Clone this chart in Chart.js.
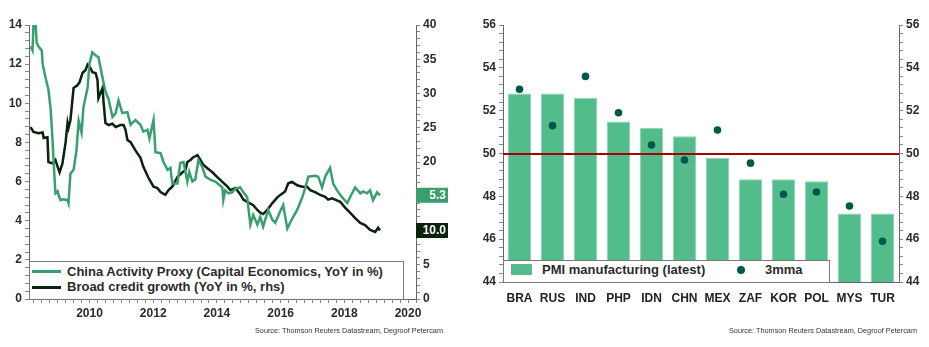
<!DOCTYPE html>
<html>
<head>
<meta charset="utf-8">
<title>China activity proxy and EM PMI</title>
<script src="https://cdn.jsdelivr.net/npm/chart.js@4.4.1/dist/chart.umd.min.js"></script>
<style>
  html, body { margin: 0; padding: 0; background: #fff; }
  body { position: relative; width: 929px; height: 347px; overflow: hidden;
         font-family: "Liberation Sans", Arial, sans-serif; color: #2b2b2b; }
  canvas { position: absolute; top: 0; }
  #activityChart { left: 0; }
  #pmiChart { left: 460px; }
  .legend { position: absolute; box-sizing: border-box; background: #fff;
            border: 1px solid #7a7a7a; font-weight: bold; font-size: 13px; z-index: 2; }
  .legend .row { position: absolute; white-space: nowrap; line-height: 16px; }
  .swatch-line { position: absolute; height: 3px; width: 29px; }
  .source { position: absolute; font-size: 7.3px; line-height: 9px; color: #333; white-space: nowrap; }
</style>
</head>
<body>
<canvas id="activityChart" width="460" height="347"></canvas>
<canvas id="pmiChart" width="469" height="347"></canvas>

<div class="legend" style="left:29px; top:261px; width:375px; height:39px;">
  <div class="swatch-line" style="left:2px; top:8px; background:#3a9f6e;"></div>
  <div class="row" style="left:37px; top:2px;">China Activity Proxy (Capital Economics, YoY in %)</div>
  <div class="swatch-line" style="left:2px; top:24px; background:#0b220f;"></div>
  <div class="row" style="left:37px; top:17px;">Broad credit growth (YoY in %, rhs)</div>
</div>
<div class="source" style="right:486px; top:326px;">Source: Thomson Reuters Datastream, Degroof Petercam</div>

<div class="legend" style="left:503px; top:260px; width:327px; height:23px;">
  <div style="position:absolute; left:7px; top:3px; width:21px; height:11px; background:#52bd8b;"></div>
  <div class="row" style="left:38px; top:1px;">PMI manufacturing (latest)</div>
  <div style="position:absolute; left:233px; top:5px; width:8px; height:8px; border-radius:50%; background:#00584a;"></div>
  <div class="row" style="left:261px; top:1px;">3mma</div>
</div>
<div class="source" style="right:12px; top:326px;">Source: Thomson Reuters Datastream, Degroof Petercam</div>

<script>
// China Activity Proxy (lhs, %) - dates as decimal years
const proxyDates = [2008.15, 2008.21, 2008.24, 2008.31, 2008.34, 2008.40, 2008.50, 2008.53, 2008.62, 2008.71,
  2008.78, 2008.84, 2008.87, 2008.93, 2009.00, 2009.03, 2009.09, 2009.18, 2009.31, 2009.34,
  2009.40, 2009.50, 2009.59, 2009.66, 2009.75, 2009.81, 2009.94, 2010.00, 2010.09, 2010.19,
  2010.28, 2010.41, 2010.50, 2010.60, 2010.72, 2010.82, 2010.91, 2011.03, 2011.19, 2011.29,
  2011.44, 2011.60, 2011.69, 2011.82, 2011.88, 2012.01, 2012.07, 2012.23, 2012.32, 2012.45,
  2012.54, 2012.60, 2012.76, 2012.85, 2012.95, 2013.07, 2013.13, 2013.23, 2013.32, 2013.42,
  2013.54, 2013.64, 2013.79, 2013.95, 2014.17, 2014.20, 2014.26, 2014.36, 2014.48, 2014.58,
  2014.73, 2014.83, 2014.95, 2015.05, 2015.14, 2015.27, 2015.36, 2015.45, 2015.61, 2015.74,
  2015.83, 2015.99, 2016.08, 2016.21, 2016.36, 2016.52, 2016.68, 2016.77, 2016.87, 2017.08,
  2017.18, 2017.30, 2017.40, 2017.55, 2017.65, 2017.77, 2017.93, 2018.09, 2018.18, 2018.34,
  2018.50, 2018.59, 2018.71, 2018.81, 2018.90, 2019.03, 2019.12];
const proxyValues = [12.9, 12.7, 14.0, 14.0, 13.1, 12.9, 12.7, 12.0, 11.3, 10.7,
  9.7, 8.1, 7.1, 5.4, 5.5, 5.3, 5.05, 5.1, 5.05, 4.9,
  6.4, 6.6, 7.6, 9.1, 8.5, 9.8, 10.8, 12.05, 12.6, 12.45,
  12.35, 11.3, 10.6, 10.2, 9.3, 9.5, 10.15, 9.5, 9.55, 8.9,
  9.15, 8.9, 8.55, 8.65, 8.2, 9.15, 7.5, 7.45, 7.0, 6.6,
  6.7, 5.9, 5.9, 6.95, 7.0, 6.0, 6.5, 6.0, 6.1, 7.1,
  6.75, 6.25, 6.1, 6.0, 5.7, 5.05, 5.55, 5.4, 5.45, 5.65,
  5.7, 5.45, 5.2, 3.8, 4.3, 3.8, 4.2, 3.7, 4.55, 4.05,
  3.9, 4.5, 4.8, 3.6, 4.1, 4.55, 5.2, 5.65, 6.25, 6.3,
  6.25, 5.7, 6.25, 6.7, 5.9, 5.55, 5.2, 4.9, 5.2, 5.7,
  5.4, 5.5, 5.4, 5.55, 5.05, 5.45, 5.3];

// Broad credit growth (rhs, %)
const creditDates = [2008.15, 2008.24, 2008.40, 2008.53, 2008.56, 2008.68, 2008.71, 2008.84, 2008.93, 2009.00,
  2009.06, 2009.15, 2009.25, 2009.31, 2009.34, 2009.40, 2009.50, 2009.62, 2009.69, 2009.78,
  2009.87, 2009.94, 2010.03, 2010.09, 2010.19, 2010.25, 2010.28, 2010.41, 2010.44, 2010.50,
  2010.60, 2010.72, 2010.82, 2010.97, 2011.07, 2011.13, 2011.19, 2011.29, 2011.44, 2011.60,
  2011.69, 2011.85, 2012.01, 2012.13, 2012.23, 2012.38, 2012.48, 2012.60, 2012.76, 2012.92,
  2013.01, 2013.07, 2013.17, 2013.26, 2013.39, 2013.48, 2013.57, 2013.70, 2013.86, 2014.01,
  2014.17, 2014.33, 2014.42, 2014.58, 2014.73, 2014.83, 2014.98, 2015.14, 2015.27, 2015.36,
  2015.45, 2015.58, 2015.74, 2015.89, 2015.99, 2016.14, 2016.24, 2016.36, 2016.52, 2016.68,
  2016.83, 2016.93, 2017.08, 2017.24, 2017.40, 2017.49, 2017.62, 2017.71, 2017.87, 2018.03,
  2018.18, 2018.34, 2018.50, 2018.65, 2018.81, 2018.97, 2019.06, 2019.12];
const creditValues = [25.1, 24.4, 24.2, 24.3, 23.5, 23.6, 20.0, 19.8, 20.3, 19.3,
  18.5, 19.8, 22.9, 25.7, 25.0, 26.1, 30.8, 31.2, 31.7, 33.0,
  33.4, 34.2, 33.7, 33.1, 33.0, 32.0, 29.3, 30.8, 28.8, 25.7,
  25.4, 25.6, 25.1, 25.4, 25.4, 24.7, 23.2, 22.9, 21.7, 20.6,
  19.3, 17.7, 16.4, 16.2, 15.6, 15.2, 15.9, 16.4, 17.8, 18.5,
  18.8, 20.0, 20.3, 20.7, 21.0, 20.3, 19.6, 19.1, 18.5, 17.8,
  17.1, 16.4, 15.9, 16.2, 15.3, 14.5, 14.1, 13.7, 13.0, 12.6,
  12.4, 13.0, 14.0, 14.8, 15.2, 15.7, 16.9, 17.1, 16.6, 16.4,
  16.4, 15.9, 15.6, 15.2, 14.9, 14.5, 14.7, 14.5, 14.2, 13.3,
  12.6, 11.8, 11.1, 10.8, 10.1, 9.8, 10.4, 10.0];

const proxyTicks = [0, 2, 4, 6, 8, 10, 12, 14];
const creditTicks = [0, 5, 10, 15, 20, 25, 30, 35, 40];
const yearTicks = [2010, 2012, 2014, 2016, 2018, 2020];

// EM manufacturing PMI
const pmiCountries = ['BRA', 'RUS', 'IND', 'PHP', 'IDN', 'CHN', 'MEX', 'ZAF', 'KOR', 'POL', 'MYS', 'TUR'];
const pmiLatest = [52.8, 52.8, 52.6, 51.5, 51.2, 50.8, 49.8, 48.8, 48.8, 48.7, 47.2, 47.2];
const pmi3mma = [53.0, 51.3, 53.6, 51.9, 50.4, 49.7, 51.1, 49.55, 48.1, 48.2, 47.55, 45.9];
const pmiTicks = [44, 46, 48, 50, 52, 54, 56];
const pmiThreshold = 50;

Chart.defaults.font.family = '"Liberation Sans", Arial, sans-serif';
Chart.defaults.animation = false;

const GREEN = '#3a9f6e';
const DARK = '#0b220f';
const TEXT = '#2b2b2b';
const AXIS = '#666';

function stepTicks(min, max, step) {
  const out = [];
  for (let k = 0; min + k * step <= max + 1e-9; k++) {
    out.push(Math.round((min + k * step) * 100) / 100);
  }
  return out;
}

function valueAxis(position, min, max, minorStep, labels, width) {
  const minor = stepTicks(min, max, minorStep);
  return {
    type: 'linear',
    position: position,
    min: min,
    max: max,
    afterBuildTicks: s => { s.ticks = minor.map(v => ({ value: v })); },
    afterFit: s => { s.width = width; },
    grid: { drawOnChartArea: false, tickLength: 4, color: '#888' },
    border: { color: AXIS },
    ticks: {
      autoSkip: false,
      padding: 3,
      color: TEXT,
      font: { size: 12, weight: 'bold' },
      callback: v => labels.includes(v) ? String(v) : ''
    }
  };
}

// coloured boxes with the latest value at the right axis
const lastValueBoxes = {
  id: 'lastValueBoxes',
  afterDraw(chart) {
    const { ctx, chartArea } = chart;
    chart.data.datasets.forEach(ds => {
      const last = ds.data[ds.data.length - 1];
      const y = chart.scales[ds.yAxisID].getPixelForValue(last.y);
      ctx.save();
      ctx.fillStyle = ds.borderColor;
      ctx.fillRect(chartArea.right, y - 7.5, 32, 15);
      ctx.fillStyle = '#fff';
      ctx.font = 'bold 12px "Liberation Sans", Arial, sans-serif';
      ctx.textAlign = 'right';
      ctx.textBaseline = 'middle';
      ctx.fillText(last.y.toFixed(1), chartArea.right + 30, y + 0.5);
      ctx.restore();
    });
  }
};

const quarterTicks = stepTicks(2008.25, 2020.25, 0.25);

new Chart(document.getElementById('activityChart'), {
  type: 'line',
  data: {
    datasets: [{
      label: 'China Activity Proxy (Capital Economics, YoY in %)',
      data: proxyDates.map((d, i) => ({ x: d, y: proxyValues[i] })),
      borderColor: GREEN,
      borderWidth: 2.5,
      pointRadius: 0,
      yAxisID: 'y'
    }, {
      label: 'Broad credit growth (YoY in %, rhs)',
      data: creditDates.map((d, i) => ({ x: d, y: creditValues[i] })),
      borderColor: DARK,
      borderWidth: 2.5,
      pointRadius: 0,
      yAxisID: 'y2'
    }]
  },
  options: {
    responsive: false,
    layout: { padding: { top: 25, left: 0, right: 0, bottom: 0 } },
    plugins: { legend: { display: false }, tooltip: { enabled: false } },
    scales: {
      x: {
        type: 'linear',
        min: 2008.1,
        max: 2020.25,
        afterBuildTicks: s => { s.ticks = quarterTicks.map(v => ({ value: v })); },
        afterFit: s => { s.height = 48; },
        grid: { drawOnChartArea: false, tickLength: 4, color: '#888' },
        border: { color: AXIS },
        ticks: {
          autoSkip: false,
          maxRotation: 0,
          padding: 3,
          color: TEXT,
          font: { size: 12, weight: 'bold' },
          callback: v => yearTicks.includes(v) ? String(v) : ''
        }
      },
      y: valueAxis('left', 0, 14, 0.4, proxyTicks, 29),
      y2: valueAxis('right', 0, 40, 1, creditTicks, 44)
    }
  },
  plugins: [lastValueBoxes]
});

// red line at the 50 expansion threshold, above the bars
const thresholdLine = {
  id: 'thresholdLine',
  afterDatasetDraw(chart, args) {
    if (args.meta.type !== 'bar') return;
    const { ctx, chartArea } = chart;
    const y = Math.round(chart.scales.y.getPixelForValue(pmiThreshold));
    ctx.save();
    ctx.strokeStyle = '#a40000';
    ctx.lineWidth = 2;
    ctx.beginPath();
    ctx.moveTo(chartArea.left, y);
    ctx.lineTo(chartArea.right, y);
    ctx.stroke();
    ctx.restore();
  }
};

new Chart(document.getElementById('pmiChart'), {
  data: {
    labels: pmiCountries,
    datasets: [{
      type: 'line',
      label: '3mma',
      data: pmi3mma,
      showLine: false,
      pointRadius: 3.8,
      pointBackgroundColor: '#00584a',
      pointBorderWidth: 0,
      order: 0
    }, {
      type: 'bar',
      label: 'PMI manufacturing (latest)',
      data: pmiLatest,
      backgroundColor: '#52bd8b',
      borderColor: '#8ad5b0',
      borderWidth: 1,
      barPercentage: 0.7,
      categoryPercentage: 1,
      order: 1
    }]
  },
  options: {
    responsive: false,
    layout: { padding: { top: 25, left: 0, right: 0, bottom: 0 } },
    plugins: { legend: { display: false }, tooltip: { enabled: false } },
    scales: {
      x: {
        afterFit: s => { s.height = 65; },
        grid: { drawOnChartArea: false, drawTicks: false },
        border: { color: AXIS },
        ticks: { padding: 9, color: '#222', font: { size: 12, weight: 'bold' } }
      },
      y: valueAxis('left', 44, 56, 0.4, pmiTicks, 43),
      y2: valueAxis('right', 44, 56, 0.4, pmiTicks, 30)
    }
  },
  plugins: [thresholdLine]
});
</script>
</body>
</html>
